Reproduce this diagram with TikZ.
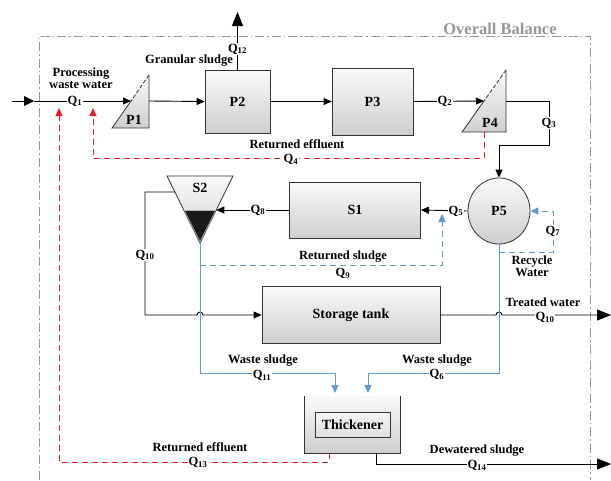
\documentclass[tikz,border=0pt]{standalone}
\usepackage{fontspec}
\setmainfont{Liberation Serif}
\usetikzlibrary{arrows.meta,shapes.geometric,calc}
\definecolor{rd}{RGB}{232,30,37}
\definecolor{bl}{RGB}{91,155,213}
\definecolor{bd}{RGB}{150,150,150}
\newcommand{\Qn}[1]{Q\textsubscript{#1}}
\tikzset{
  shd/.style={top color=gray!4, bottom color=gray!38},
  box/.style={rectangle, draw=black!80, line width=0.8pt, shd, font=\bfseries\fontsize{14}{15}\selectfont},
  lbl/.style={font=\bfseries\fontsize{12.5}{13}\selectfont, inner sep=0.5pt, align=center},
  onl/.style={lbl, fill=white},
  flow/.style={line width=0.9pt, draw=black},
  arr/.style={-{Triangle[length=8pt,width=7pt]}},
  bigarr/.style={-{Triangle[length=14pt,width=11pt]}},
  midarr/.style={-{Triangle[length=10pt,width=10pt]}},
  reddash/.style={draw=rd, line width=1pt, dash pattern=on 6pt off 4pt},
  bluedash/.style={draw=bl, line width=1pt, dash pattern=on 6pt off 4pt},
  blueline/.style={draw=bl, line width=1pt},
  border/.style={draw=bd, line width=0.9pt, dash pattern=on 9pt off 3pt on 1.5pt off 3pt}
}
\begin{document}
\begin{tikzpicture}[x=1pt,y=-1pt]
\useasboundingbox (0,0) rectangle (611,480);
% overall balance border
\draw[border] (39,480) -- (39,36) -- (590,36) -- (590,480);
\node[lbl, text=bd, font=\bfseries\fontsize{16.5}{17}\selectfont, anchor=south] (ob) at (500,35) {Overall Balance};

% boxes
\node[box, minimum width=65pt, minimum height=63pt] (P2) at (237.5,101.5) {P2};
\node[box, minimum width=81pt, minimum height=67pt] (P3) at (372.5,101.5) {P3};
\node[box, minimum width=131pt, minimum height=56pt] (S1) at (355,210) {S1};
\node[box, minimum width=178pt, minimum height=57pt] (T) at (351,315) {Storage tank};
\node[ellipse, draw=black!80, line width=0.8pt, shd, minimum width=62pt, minimum height=66pt, font=\bfseries\fontsize{14}{15}\selectfont] (P5) at (499,211) {P5};
\node[rectangle, shd, minimum width=95pt, minimum height=57pt] (thk) at (352.5,424.5) {};
\draw[black!80, line width=0.8pt] (thk.north west) -- (thk.south west) -- (thk.south east) -- (thk.north east);
\node[rectangle, draw=black!80, line width=0.8pt, top color=gray!8, bottom color=gray!25, minimum width=75pt, minimum height=25pt, inner sep=1pt, font=\bfseries\fontsize{14}{15}\selectfont] (TK) at (352.5,424.5) {Thickener};

% P1 triangle
\coordinate (P1a) at (112,128);
\coordinate (P1b) at (149,128);
\coordinate (P1c) at (149,75);
\coordinate (P1in) at (131,101);
\coordinate (P1r) at (149,101);
\path[shd] (P1a) -- (P1b) -- (P1c) -- cycle;
\draw[black!80, line width=0.8pt] (P1in) -- (P1a) -- (P1b) -- (P1c);
\draw[black!80, line width=0.8pt, dash pattern=on 4pt off 2pt] (P1c) -- (P1in);
\node[lbl, font=\bfseries\fontsize{14}{15}\selectfont] (P1) at (134,120) {P1};

% P4 triangle
\coordinate (P4a) at (462,132);
\coordinate (P4b) at (506,132);
\coordinate (P4c) at (506,70);
\coordinate (P4in) at (484,101);
\coordinate (P4r) at (506,101);
\path[shd] (P4a) -- (P4b) -- (P4c) -- cycle;
\draw[black!80, line width=0.8pt] (P4in) -- (P4a) -- (P4b) -- (P4c);
\draw[black!80, line width=0.8pt, dash pattern=on 4pt off 2pt] (P4c) -- (P4in);
\node[lbl, font=\bfseries\fontsize{14}{15}\selectfont] (P4) at (490,123) {P4};

% S2 triangle
\coordinate (S2a) at (167,176);
\coordinate (S2b) at (233,176);
\coordinate (S2c) at (200,243);
\coordinate (S2r) at (216.3,210);
\coordinate (S2l) at (175,192);
\path[shd, draw=black!80, line width=0.8pt] (S2a) -- (S2b) -- (S2c) -- cycle;
\path[fill=black!90, draw=gray!60, line width=0.6pt] (184.5,210.5) -- (215.5,210.5) -- (200,241.5) -- cycle;
\node[lbl, font=\bfseries\fontsize{14}{15}\selectfont] (S2) at (200,188) {S2};

% flows (black)
\coordinate (inS) at (12,101);
\coordinate (inT) at (34,101);
\draw[flow, midarr] (inS) -- (inT);
\draw[flow, arr] (inT) -- (P1in);
\draw[flow, arr] (P1r) -- (P2.west);
\coordinate (top12) at (237.5,12);
\draw[flow, bigarr] (P2.north) -- (top12);
\draw[flow, arr] (P2.east) -- (P3.west);
\draw[flow, arr] (P3.east) -- (P4in);
\coordinate (c3) at (549,145);
\draw[flow, arr] (P4r) -| (c3) -| (P5.north);
\draw[flow, arr] (P5.west) -- (S1.east);
\draw[flow, arr] (S1.west) -- (S2r);
\coordinate (c10) at (145,315);
\draw[flow, arr] (S2l) -| (c10) -- (197,315) arc[start angle=180, end angle=0, radius=3pt] -- (T.west);
\coordinate (outT) at (611,315);
\draw[flow, bigarr] (T.east) -- (496,315) arc[start angle=180, end angle=0, radius=3pt] -- (outT);
\coordinate (dw0) at (376,453);
\coordinate (dw1) at (611,464);
\draw[flow, bigarr] (dw0) |- (dw1);

% blue flows
\coordinate (tA) at (335,393);
\coordinate (tB) at (368,393);
\draw[blueline, arr] (S2c) |- (335,373) -- (tA);
\draw[blueline, arr] (P5.south) |- (368,373) -- (tB);
\coordinate (rs0) at (200,265);
\coordinate (rs1) at (442,214);
\draw[bluedash, arr] (rs0) -| (rs1);
\coordinate (rw0) at (499,252);
\coordinate (rw1) at (553,252);
\draw[bluedash, arr] (rw0) -- (rw1) |- (P5.east);

% red flows
\coordinate (re0) at (484,132);
\coordinate (re1) at (93,108);
\draw[reddash, arr] (re0) |- (93,158) -- (re1);
\coordinate (rf0) at (329,453);
\coordinate (rf1) at (59,108);
\draw[reddash, arr] (rf0) |- (59,462) -- (rf1);

% labels
\node[lbl] (lPW) at (81,78) {Processing\\[-1pt]waste water};
\node[onl] (q1) at (75,101) {\Qn{1}};
\node[lbl] (lGS) at (189,61) {Granular sludge};
\node[onl] (q12) at (237.5,49) {\Qn{12}};
\node[onl] (q2) at (445,101) {\Qn{2}};
\node[onl] (q3) at (549,123) {\Qn{3}};
\node[lbl] (lRE) at (297,144.5) {Returned effluent};
\node[onl] (q4) at (291,159.5) {\Qn{4}};
\node[onl] (q5) at (456,211) {\Qn{5}};
\node[onl] (q8) at (258,210) {\Qn{8}};
\node[onl] (q7) at (553,231) {\Qn{7}};
\node[lbl] (lRW) at (532,266) {Recycle\\[-1pt]Water};
\node[onl] (q10a) at (145,255) {\Qn{10}};
\node[lbl] (lRS) at (343,256.5) {Returned sludge};
\node[lbl] (q9) at (343,273.5) {\Qn{9}};
\node[lbl] (lTW) at (543,302.5) {Treated water};
\node[onl] (q10b) at (545,317.5) {\Qn{10}};
\node[lbl] (lWS1) at (263,361) {Waste sludge};
\node[onl] (q11) at (262,375.5) {\Qn{11}};
\node[lbl] (lWS2) at (437,361) {Waste sludge};
\node[onl] (q6) at (437,374.5) {\Qn{6}};
\node[lbl] (lRE2) at (200,447) {Returned effluent};
\node[onl] (q13) at (198,462.5) {\Qn{13}};
\node[lbl] (lDS) at (477,451) {Dewatered sludge};
\node[onl] (q14) at (477,465.5) {\Qn{14}};
\end{tikzpicture}
\end{document}
